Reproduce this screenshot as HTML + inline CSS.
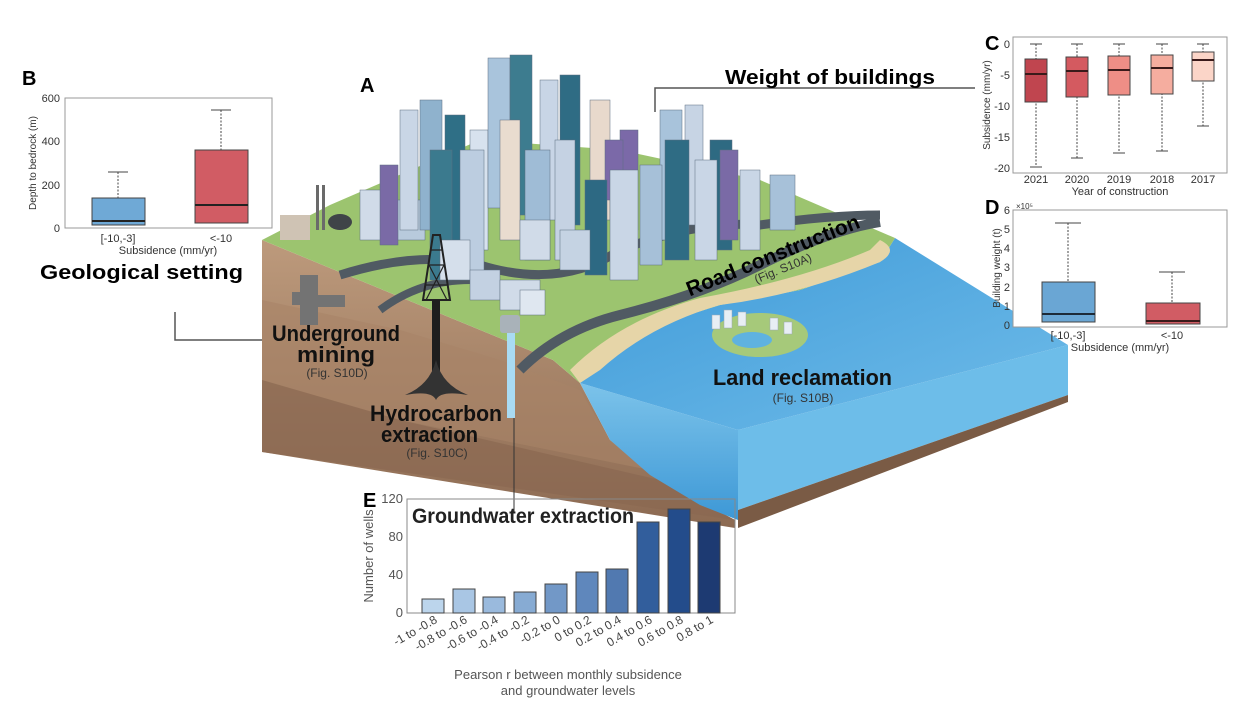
<!DOCTYPE html>
<html><head><meta charset="utf-8"><style>
html,body{margin:0;padding:0;background:#fff}
svg{display:block;font-family:"Liberation Sans",Arial,sans-serif}
.b{font-weight:bold}
</style></head><body>
<svg width="1250" height="708" viewBox="0 0 1250 708" xmlns="http://www.w3.org/2000/svg">
<defs>
<linearGradient id="wf" x1="0" y1="0" x2="0" y2="1"><stop offset="0" stop-color="#7cc3ea"/><stop offset="1" stop-color="#3d98d6"/></linearGradient>
<linearGradient id="wt" x1="0" y1="0" x2="1" y2="1"><stop offset="0" stop-color="#3f9ad8"/><stop offset="1" stop-color="#6fbce9"/></linearGradient>
<linearGradient id="br" x1="0" y1="0" x2="0" y2="1"><stop offset="0" stop-color="#bd9a7c"/><stop offset="1" stop-color="#8c6a52"/></linearGradient>
</defs>
<!-- block -->
<polygon points="262,240 553,360 580,383 610,440 660,480 735,520 735,528 262,452" fill="url(#br)"/>
<polygon points="262,300 400,330 500,360 580,390 610,440 650,470 400,420 262,380" fill="#a98468" opacity="0.6"/>
<polygon points="262,380 400,420 660,480 735,520 262,452" fill="#8a6851" opacity="0.7"/>
<polygon points="580,383 738,430 738,520 700,505 650,475 610,440" fill="url(#wf)"/>
<polygon points="738,430 1068,345 1068,395 738,510" fill="#6dbde9"/>
<polygon points="738,510 1068,395 1068,402 738,528" fill="#7a5b45"/>
<polygon points="895,238 1068,345 738,430 580,383 640,330 720,305 800,290 880,262" fill="url(#wt)"/>
<!-- land -->
<polygon points="262,240 330,205 480,140 620,150 760,180 895,238 880,262 800,290 720,305 640,330 580,383 553,360" fill="#9cc46f"/>
<path d="M880,240 Q900,250 880,262 Q800,295 720,305 Q650,325 600,370 L580,383 L570,370 Q620,320 700,298 Q800,280 870,250Z" fill="#e6d5a8"/>
<!-- roads -->
<path d="M340,275 Q420,250 480,265 Q560,290 620,250 Q700,220 760,225 Q830,215 880,215" stroke="#505a63" stroke-width="9" fill="none"/>
<path d="M520,370 Q560,330 620,315 Q700,295 760,265 Q830,230 880,222" stroke="#505a63" stroke-width="10" fill="none"/>
<path d="M380,310 Q420,280 470,280" stroke="#505a63" stroke-width="8" fill="none"/>
<!-- reclamation island -->
<ellipse cx="760" cy="335" rx="48" ry="22" fill="#a6c97a"/>
<ellipse cx="752" cy="340" rx="20" ry="8" fill="#5fb2e0"/>
<g fill="#e8eef4" stroke="#9aa8b6" stroke-width="0.5"><rect x="712" y="315" width="8" height="14"/><rect x="724" y="310" width="8" height="18"/><rect x="738" y="312" width="8" height="14"/><rect x="770" y="318" width="8" height="12"/><rect x="784" y="322" width="8" height="12"/></g>
<!-- buildings -->
<g stroke="#5d6f80" stroke-width="0.5">
<rect x="360" y="190" width="30" height="50" fill="#d0dbe8"/><rect x="395" y="200" width="30" height="40" fill="#b8cadc"/>
<rect x="400" y="110" width="18" height="120" fill="#c9d6e6"/><rect x="420" y="100" width="22" height="130" fill="#8fb2cd"/>
<rect x="445" y="115" width="20" height="140" fill="#2f6f86"/><rect x="470" y="130" width="18" height="120" fill="#d7e2ee"/>
<rect x="488" y="58" width="22" height="150" fill="#a9c4dc"/><rect x="510" y="55" width="22" height="160" fill="#3d7c8f"/>
<rect x="540" y="80" width="18" height="140" fill="#c8d5e6"/><rect x="560" y="75" width="20" height="150" fill="#2f6c84"/>
<rect x="590" y="100" width="20" height="120" fill="#e8d9cc"/><rect x="620" y="130" width="18" height="100" fill="#7b69a8"/>
<rect x="660" y="110" width="22" height="130" fill="#a8c3db"/><rect x="685" y="105" width="18" height="120" fill="#c7d4e4"/>
<rect x="710" y="140" width="22" height="110" fill="#2e6a82"/><rect x="740" y="170" width="20" height="80" fill="#c9d6e6"/>
<rect x="770" y="175" width="25" height="55" fill="#a7c1d9"/><rect x="380" y="165" width="18" height="80" fill="#7a6aa6"/>
<rect x="430" y="150" width="22" height="130" fill="#3b7a8e"/><rect x="460" y="150" width="24" height="130" fill="#bccde0"/>
<rect x="500" y="120" width="20" height="120" fill="#e9dccf"/><rect x="525" y="150" width="25" height="110" fill="#9fbcd6"/>
<rect x="555" y="140" width="20" height="120" fill="#c5d2e3"/><rect x="605" y="140" width="18" height="60" fill="#7b69a8"/>
<rect x="585" y="180" width="22" height="95" fill="#2d6983"/><rect x="610" y="170" width="28" height="110" fill="#c9d6e6"/>
<rect x="640" y="165" width="22" height="100" fill="#a6c0d8"/><rect x="665" y="140" width="24" height="120" fill="#2f6c84"/>
<rect x="695" y="160" width="22" height="100" fill="#c9d6e6"/><rect x="720" y="150" width="18" height="90" fill="#7a6aa6"/>
<rect x="520" y="220" width="30" height="40" fill="#d0dbe8"/><rect x="560" y="230" width="30" height="40" fill="#c5d3e3"/>
<rect x="440" y="240" width="30" height="40" fill="#d5dfeb"/><rect x="470" y="270" width="30" height="30" fill="#c3d1e2"/>
<rect x="500" y="280" width="40" height="30" fill="#d0dbe8"/><rect x="520" y="290" width="25" height="25" fill="#dfe7f0"/>
</g>
<!-- industrial left -->
<rect x="280" y="215" width="30" height="25" fill="#cfc3b4"/>
<rect x="316" y="185" width="3" height="45" fill="#6a6a6a"/><rect x="322" y="185" width="3" height="45" fill="#6a6a6a"/>
<ellipse cx="340" cy="222" rx="12" ry="8" fill="#3f4448"/>
<!-- mining tunnels -->
<path d="M300,275 L318,275 L318,295 L345,295 L345,307 L318,307 L318,325 L300,325 L300,305 L292,305 L292,292 L300,292Z" fill="#737373"/>
<!-- derrick -->
<path d="M423,300 L433,235 L440,235 L450,300Z" fill="none" stroke="#222" stroke-width="2"/>
<path d="M426,285 L447,285 M429,265 L444,265 M431,250 L442,250 M426,300 L444,265 M447,300 L429,265" stroke="#222" stroke-width="1.2"/>
<rect x="432" y="300" width="8" height="85" fill="#1e1e1e"/>
<path d="M405,395 Q430,385 436,360 Q442,385 468,395 Q440,390 436,400 Q432,390 405,395Z" fill="#333"/>
<!-- well -->
<rect x="500" y="315" width="20" height="18" rx="3" fill="#a9b2b9"/>
<rect x="507" y="333" width="8" height="85" fill="#a9dbf3"/>
<line x1="514" y1="418" x2="514" y2="512" stroke="#333" stroke-width="1"/>
<!-- connectors -->
<polyline points="655,112 655,88 975,88" fill="none" stroke="#555" stroke-width="1.5"/>
<polyline points="175,312 175,340 262,340" fill="none" stroke="#555" stroke-width="1.5"/>
<!-- labels on block -->
<text x="360" y="92" class="b" font-size="20">A</text>
<text x="725" y="84" class="b" font-size="20" textLength="210" lengthAdjust="spacingAndGlyphs">Weight of buildings</text>
<g class="b" font-size="22" fill="#111">
<text x="272" y="341" textLength="128" lengthAdjust="spacingAndGlyphs">Underground</text>
<text x="297" y="362" textLength="78" lengthAdjust="spacingAndGlyphs">mining</text>
<text x="370" y="421" textLength="132" lengthAdjust="spacingAndGlyphs">Hydrocarbon</text>
<text x="381" y="442" textLength="97" lengthAdjust="spacingAndGlyphs">extraction</text>
<text x="713" y="385" textLength="179" lengthAdjust="spacingAndGlyphs">Land reclamation</text>
</g>
<g font-size="12" text-anchor="middle" fill="#333">
<text x="337" y="377">(Fig. S10D)</text><text x="437" y="457">(Fig. S10C)</text><text x="803" y="402">(Fig. S10B)</text>
</g>
<g transform="translate(775,262) rotate(-22)"><text x="-92" y="0" class="b" font-size="21" textLength="185" lengthAdjust="spacingAndGlyphs">Road construction</text><text x="5" y="13" font-size="12" text-anchor="middle" fill="#333">(Fig. S10A)</text></g>

<!-- Panel B -->
<text x="22" y="85" class="b" font-size="20">B</text>
<rect x="65" y="98" width="207" height="130" fill="#fff" stroke="#999"/>
<g font-size="11" fill="#333" text-anchor="end"><text x="60" y="232">0</text><text x="60" y="189">200</text><text x="60" y="145">400</text><text x="60" y="102">600</text></g>
<text transform="translate(36,163) rotate(-90)" font-size="10" text-anchor="middle" fill="#333">Depth to bedrock (m)</text>
<g stroke="#444" stroke-dasharray="2,1.5"><line x1="118" y1="172" x2="118" y2="198"/><line x1="221" y1="110" x2="221" y2="150"/></g>
<g stroke="#444"><line x1="108" y1="172" x2="128" y2="172"/><line x1="211" y1="110" x2="231" y2="110"/></g>
<rect x="92" y="198" width="53" height="27" fill="#6fa9d6" stroke="#444"/><line x1="92" y1="221" x2="145" y2="221" stroke="#222" stroke-width="2"/>
<rect x="195" y="150" width="53" height="73" fill="#d15c64" stroke="#444"/><line x1="195" y1="205" x2="248" y2="205" stroke="#222" stroke-width="2"/>
<g font-size="11" fill="#333" text-anchor="middle"><text x="118" y="242">[-10,-3]</text><text x="221" y="242">&lt;-10</text><text x="168" y="254">Subsidence (mm/yr)</text></g>
<text x="40" y="279" class="b" font-size="20" textLength="203" lengthAdjust="spacingAndGlyphs">Geological setting</text>

<!-- Panel C -->
<text x="985" y="50" class="b" font-size="20">C</text>
<rect x="1013" y="37" width="214" height="136" fill="#fff" stroke="#999"/>
<g font-size="11" fill="#333" text-anchor="end"><text x="1010" y="48">0</text><text x="1010" y="79">-5</text><text x="1010" y="110">-10</text><text x="1010" y="141">-15</text><text x="1010" y="172">-20</text></g>
<text transform="translate(990,105) rotate(-90)" font-size="10" text-anchor="middle" fill="#333">Subsidence (mm/yr)</text>
<g stroke="#444">
<line x1="1036" y1="44" x2="1036" y2="167" stroke-dasharray="2,1.5"/><line x1="1030" y1="44" x2="1042" y2="44"/><line x1="1030" y1="167" x2="1042" y2="167"/>
<rect x="1025" y="59" width="22" height="43" fill="#c0454f"/><line x1="1025" y1="74" x2="1047" y2="74" stroke="#3a1a1a" stroke-width="2"/>
<line x1="1077" y1="44" x2="1077" y2="158" stroke-dasharray="2,1.5"/><line x1="1071" y1="44" x2="1083" y2="44"/><line x1="1071" y1="158" x2="1083" y2="158"/>
<rect x="1066" y="57" width="22" height="40" fill="#d45a60"/><line x1="1066" y1="71" x2="1088" y2="71" stroke="#3a1a1a" stroke-width="2"/>
<line x1="1119" y1="44" x2="1119" y2="153" stroke-dasharray="2,1.5"/><line x1="1113" y1="44" x2="1125" y2="44"/><line x1="1113" y1="153" x2="1125" y2="153"/>
<rect x="1108" y="56" width="22" height="39" fill="#ee8e86"/><line x1="1108" y1="70" x2="1130" y2="70" stroke="#3a1a1a" stroke-width="2"/>
<line x1="1162" y1="44" x2="1162" y2="151" stroke-dasharray="2,1.5"/><line x1="1156" y1="44" x2="1168" y2="44"/><line x1="1156" y1="151" x2="1168" y2="151"/>
<rect x="1151" y="55" width="22" height="39" fill="#f5ad9f"/><line x1="1151" y1="68" x2="1173" y2="68" stroke="#3a1a1a" stroke-width="2"/>
<line x1="1203" y1="44" x2="1203" y2="126" stroke-dasharray="2,1.5"/><line x1="1197" y1="44" x2="1209" y2="44"/><line x1="1197" y1="126" x2="1209" y2="126"/>
<rect x="1192" y="52" width="22" height="29" fill="#fbd5c8"/><line x1="1192" y1="60" x2="1214" y2="60" stroke="#3a1a1a" stroke-width="2"/>
</g>
<g font-size="11" fill="#333" text-anchor="middle"><text x="1036" y="183">2021</text><text x="1077" y="183">2020</text><text x="1119" y="183">2019</text><text x="1162" y="183">2018</text><text x="1203" y="183">2017</text><text x="1120" y="195">Year of construction</text></g>

<!-- Panel D -->
<text x="985" y="214" class="b" font-size="20">D</text>
<text x="1016" y="209" font-size="8" fill="#333">×10⁵</text>
<rect x="1013" y="210" width="214" height="117" fill="#fff" stroke="#999"/>
<g font-size="11" fill="#333" text-anchor="end"><text x="1010" y="329">0</text><text x="1010" y="310">1</text><text x="1010" y="291">2</text><text x="1010" y="271">3</text><text x="1010" y="252">4</text><text x="1010" y="233">5</text><text x="1010" y="214">6</text></g>
<text transform="translate(1000,268) rotate(-90)" font-size="10" text-anchor="middle" fill="#333">Building weight (t)</text>
<g stroke="#444">
<line x1="1068" y1="223" x2="1068" y2="282" stroke-dasharray="2,1.5"/><line x1="1055" y1="223" x2="1081" y2="223"/>
<rect x="1042" y="282" width="53" height="40" fill="#6aa6d4"/><line x1="1042" y1="314" x2="1095" y2="314" stroke="#1d2a38" stroke-width="2"/>
<line x1="1172" y1="272" x2="1172" y2="303" stroke-dasharray="2,1.5"/><line x1="1159" y1="272" x2="1185" y2="272"/>
<rect x="1146" y="303" width="54" height="21" fill="#d15c64"/><line x1="1146" y1="321" x2="1200" y2="321" stroke="#3a1a1a" stroke-width="2"/>
</g>
<g font-size="11" fill="#333" text-anchor="middle"><text x="1068" y="339">[-10,-3]</text><text x="1172" y="339">&lt;-10</text><text x="1120" y="351">Subsidence (mm/yr)</text></g>

<!-- Panel E -->
<text x="363" y="507" class="b" font-size="20">E</text>
<rect x="407" y="499" width="328" height="114" fill="none" stroke="#888"/>
<g font-size="13" fill="#555" text-anchor="end"><text x="403" y="617">0</text><text x="403" y="579">40</text><text x="403" y="541">80</text><text x="403" y="503">120</text></g>
<text transform="translate(373,556) rotate(-90)" font-size="13" text-anchor="middle" fill="#555">Number of wells</text>
<g stroke="#444" stroke-width="1">
<rect x="422" y="599" width="22" height="14" fill="#bcd5ec"/>
<rect x="453" y="589" width="22" height="24" fill="#a9c6e4"/>
<rect x="483" y="597" width="22" height="16" fill="#9abadd"/>
<rect x="514" y="592" width="22" height="21" fill="#87abd3"/>
<rect x="545" y="584" width="22" height="29" fill="#7298c7"/>
<rect x="576" y="572" width="22" height="41" fill="#5f87bc"/>
<rect x="606" y="569" width="22" height="44" fill="#5179b0"/>
<rect x="637" y="522" width="22" height="91" fill="#325e9c"/>
<rect x="668" y="509" width="22" height="104" fill="#234c8b"/>
<rect x="698" y="522" width="22" height="91" fill="#1d3a72"/>
</g>
<text x="412" y="523" class="b" font-size="21" fill="#222" textLength="222" lengthAdjust="spacingAndGlyphs">Groundwater extraction</text>
<g font-size="12" fill="#444" text-anchor="end">
<text transform="translate(438,622) rotate(-30)">-1 to -0.8</text>
<text transform="translate(468,622) rotate(-30)">-0.8 to -0.6</text>
<text transform="translate(499,622) rotate(-30)">-0.6 to -0.4</text>
<text transform="translate(530,622) rotate(-30)">-0.4 to -0.2</text>
<text transform="translate(561,622) rotate(-30)">-0.2 to 0</text>
<text transform="translate(592,622) rotate(-30)">0 to 0.2</text>
<text transform="translate(622,622) rotate(-30)">0.2 to 0.4</text>
<text transform="translate(653,622) rotate(-30)">0.4 to 0.6</text>
<text transform="translate(684,622) rotate(-30)">0.6 to 0.8</text>
<text transform="translate(714,622) rotate(-30)">0.8 to 1</text>
</g>
<g font-size="13" fill="#555" text-anchor="middle"><text x="568" y="679">Pearson r between monthly subsidence</text><text x="568" y="695">and groundwater levels</text></g>
</svg>
</body></html>
